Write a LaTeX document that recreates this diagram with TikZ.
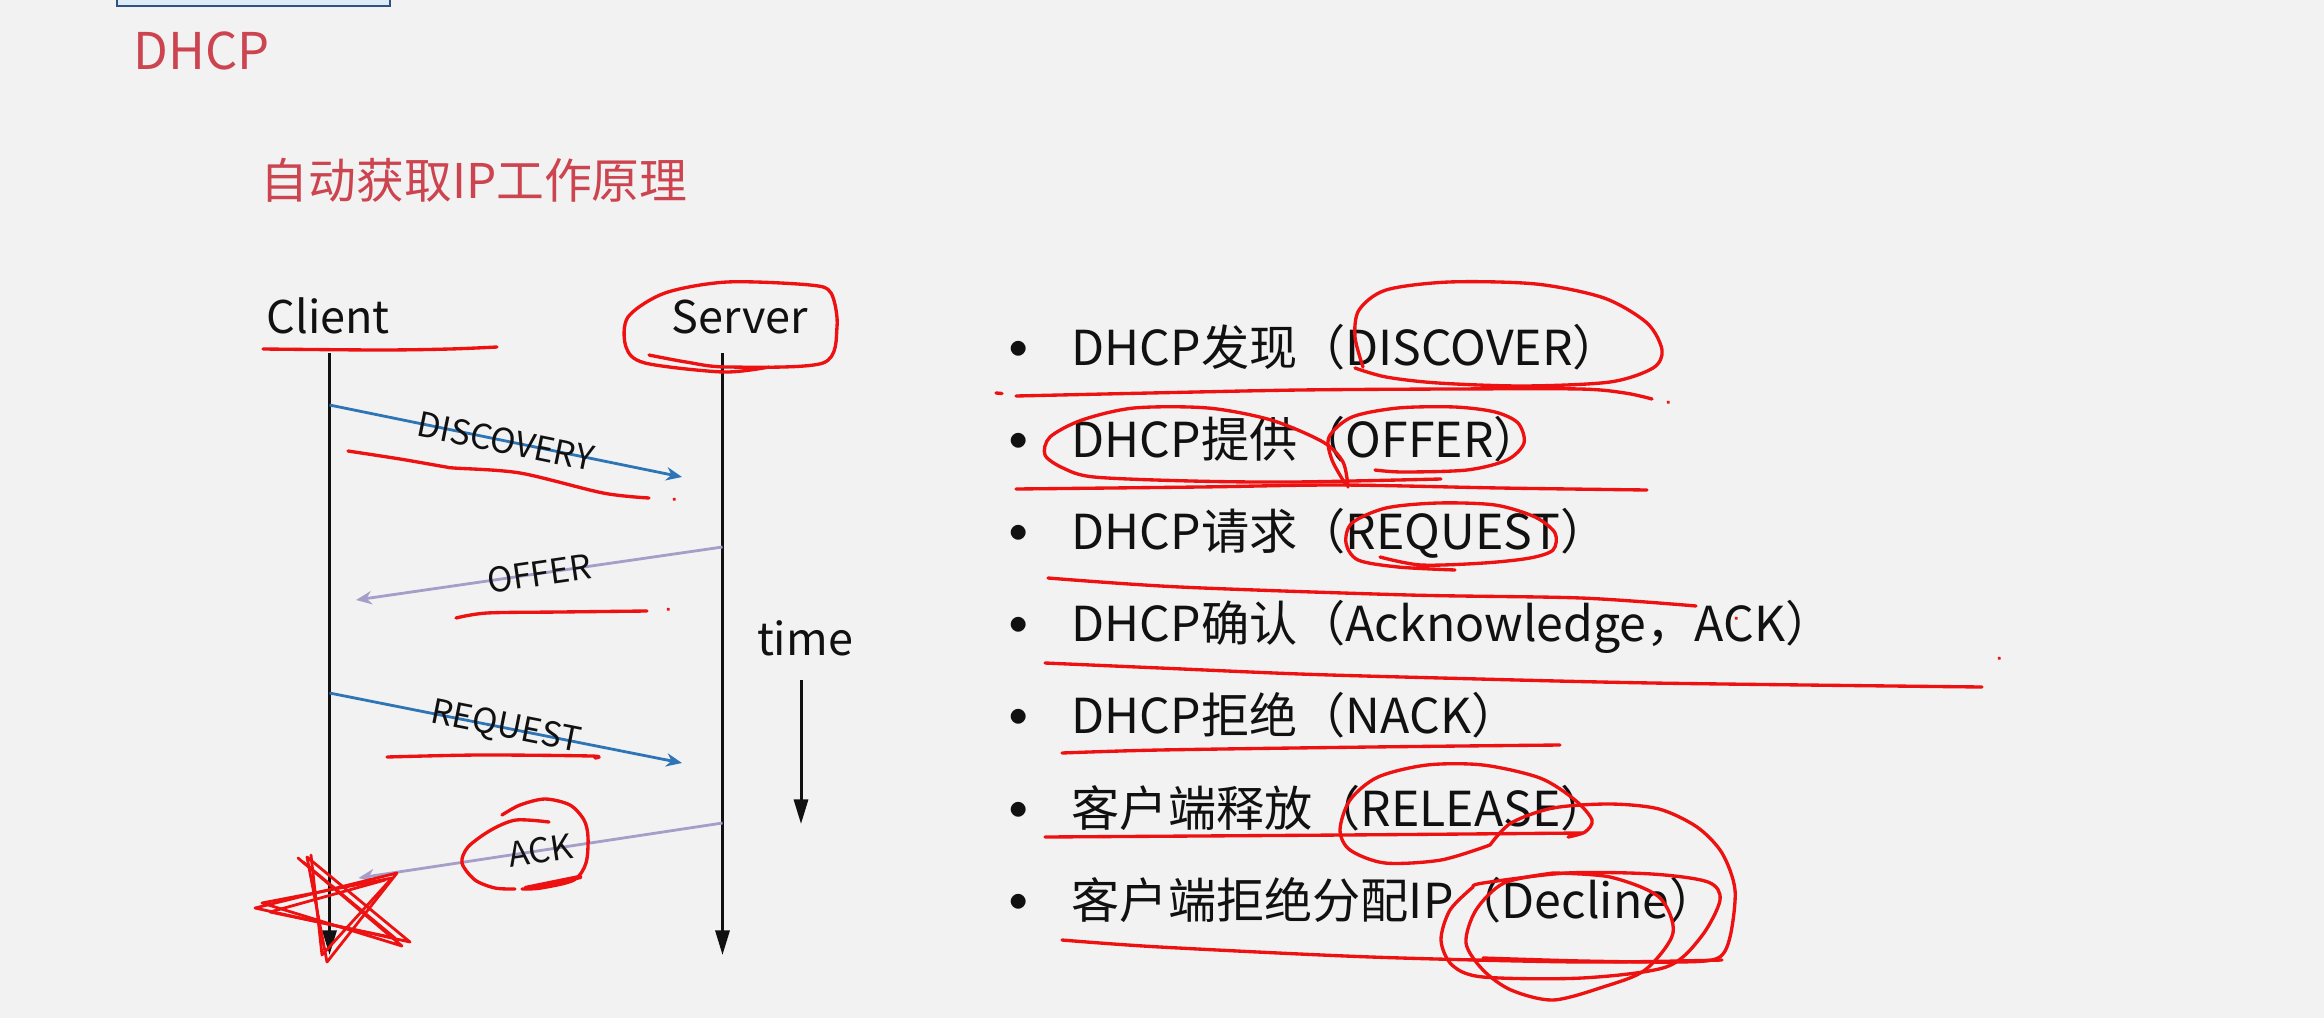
\documentclass[tikz,border=0pt]{standalone}
\usepackage{fontspec}
\setmainfont{Noto Sans CJK SC}
\usetikzlibrary{arrows.meta}
\definecolor{bg}{HTML}{F2F2F2}
\definecolor{ttl}{HTML}{CC4450}
\definecolor{pen}{HTML}{EE1111}
\definecolor{blu}{HTML}{2E75B6}
\definecolor{lav}{HTML}{A79DC9}
\definecolor{boxb}{HTML}{2F5283}
\definecolor{boxf}{HTML}{DDEBF9}
\definecolor{txt}{HTML}{111111}
\tikzset{
  life/.style={line width=0.85pt, draw=txt, -{Triangle[length=7pt,width=4pt]}},
  msgb/.style={line width=0.8pt, draw=blu, -{Stealth[length=4.5pt,width=3.8pt]}},
  msgl/.style={line width=0.8pt, draw=lav, -{Stealth[length=4.5pt,width=3.8pt]}},
  lbl/.style={font=\fontsize{9.7}{11}\selectfont, text=txt, sloped, inner sep=0pt},
  head/.style={font=\fontsize{12.8}{15}\selectfont, text=txt, inner sep=0pt},
  bul/.style={font=\fontsize{13.7}{16}\selectfont, text=txt, inner sep=0pt},
  buldot/.style={font=\fontsize{20}{20}\selectfont, text=txt, inner sep=0pt},
  redpen/.style={draw=pen, line width=0.95pt, line cap=round, line join=round}
}
\begin{document}
\begin{tikzpicture}[x=0.01cm,y=-0.01cm]
\fill[bg] (0,0) rectangle (2324,1018);
\useasboundingbox (0,0) rectangle (2324,1018);
% top box
\filldraw[fill=boxf, draw=boxb, line width=0.6pt] (117,-10) rectangle (390,6);
% titles
\node[anchor=base west, inner sep=0pt, text=ttl, font=\fontsize{14.4}{17}\selectfont] (ttlA) at (133,70) {DHCP};
\node[anchor=base west, inner sep=0pt, text=ttl, font=\fontsize{13.6}{16}\selectfont] (ttlB) at (260,198) {自动获取IP工作原理};
% heads
\node[head, anchor=base west] (client) at (266,333) {Client};
\node[head, anchor=base west] (server) at (671,333) {Server};
\node[head, anchor=base] (time) at (805,655) {time};
% coordinates
\coordinate (cT) at (329.5,353);
\coordinate (cB) at (329.5,955);
\coordinate (sT) at (722.5,353);
\coordinate (sB) at (722.5,955);
\coordinate (tT) at (801,680);
\coordinate (tB) at (801,824);
\coordinate (c1) at (329.5,405);
\coordinate (e1) at (682,477);
\coordinate (s2) at (722.5,547);
\coordinate (e2) at (356,600);
\coordinate (c3) at (329.5,693);
\coordinate (e3) at (682,763);
\coordinate (s4) at (722.5,823);
\coordinate (e4) at (358.5,878);
% lifelines
\draw[life] (cT) -- (cB);
\draw[life] (sT) -- (sB);
\draw[life] (tT) -- (tB);
% messages
\draw[msgb] (c1) -- node[lbl, pos=0.5] (lD) {DISCOVERY} (e1);
\draw[msgl] (s2) -- node[lbl, pos=0.5] (lO) {OFFER} (e2);
\draw[msgb] (c3) -- node[lbl, pos=0.5] (lR) {REQUEST} (e3);
\draw[msgl] (s4) -- node[lbl, pos=0.5] (lA) {ACK} (e4);
% bullets
\foreach \t [count=\i from 0] in {DHCP发现（DISCOVER）,DHCP提供（OFFER）,DHCP请求（REQUEST）,DHCP确认（Acknowledge，ACK）,DHCP拒绝（NACK）,客户端释放（RELEASE）,客户端拒绝分配IP（Decline）}{
  \node[buldot, anchor=center] (dot\i) at (1019,{358+92.2*\i}) {•};
  \node[bul, anchor=base west] (it\i) at (1071,{365+92.2*\i}) {\t};
}
% ===== red pen annotations =====
% client underline
\draw[redpen] plot[smooth] coordinates {(263,349) (380,350) (450,349) (497,347)};
% server loop
\draw[redpen] plot[smooth] coordinates {(649,355) (686,362) (727,367) (823,363) (837,327) (831,293) (810,285) (727,282) (665,293) (628,317) (626,347) (645,363) (723,372) (769,367)};
% discovery underline
\draw[redpen] plot[smooth] coordinates {(348,451) (400,459) (446,467) (454,468) (520,473) (603,493) (649,498)};
\draw[redpen] (674,499) -- (674.5,499.5);
% offer underline
\draw[redpen] plot[smooth] coordinates {(456,618) (487,613) (560,612) (647,611)};
\draw[redpen] (668,609) -- (668.5,609.5);
% request underline
\draw[redpen] plot[smooth] coordinates {(387,757) (479,755) (591,756) (595,758)};
% ack loop
\draw[redpen] plot[smooth] coordinates {(502,815) (520,805) (545,799) (570,805) (584,820) (588,837) (586,863) (574,880) (541,888) (522,889)};
\draw[redpen] plot[smooth] coordinates {(515,889) (495,888) (475,880) (462,863) (468,847) (491,830) (516,820) (549,822)};
\draw[redpen, line width=1.3pt] (526,888) -- (580,877);
% star
\draw[redpen, line width=0.8pt] (307,857) -- (410,942) -- (255,908) -- (397,873) -- (327,962) -- cycle;
\draw[redpen, line width=0.8pt] (298,858) -- (402,946) -- (262,903) -- (392,878) -- (322,955) -- (311,855);
\draw[redpen, line width=0.8pt] (303,862) -- (395,938) -- (270,912) -- (385,880);
% bullet 1
\draw[redpen] plot[smooth] coordinates {(1355,368) (1386,377) (1438,383) (1524,386) (1610,382) (1653,368) (1662,350) (1647,323) (1604,298) (1536,284) (1449,282) (1386,290) (1359,310) (1355,337) (1363,367)};
\draw[redpen] (996,393) -- (1002,393.5);
\draw[redpen] plot[smooth] coordinates {(1016,396) (1150,393) (1300,390) (1450,389) (1580,389) (1625,393) (1652,399)};
\draw[redpen] (1668,402) -- (1668.5,402.5);
% bullet 2
\draw[redpen] plot[smooth] coordinates {(1441,479) (1294,482) (1191,481) (1094,477) (1063,468) (1045,455) (1050,437) (1082,420) (1134,408) (1208,408) (1271,420) (1323,442) (1343,462) (1348,487)};
\draw[redpen] plot[smooth] coordinates {(1375,470) (1403,472) (1467,470) (1507,460) (1524,443) (1518,423) (1495,412) (1455,407) (1398,408) (1352,417) (1329,437) (1332,460) (1346,485)};
\draw[redpen] plot[smooth] coordinates {(1016,489) (1200,487) (1340,485) (1500,488) (1647,490)};
% bullet 3
\draw[redpen] plot[smooth] coordinates {(1455,570) (1398,567) (1358,560) (1346,543) (1352,523) (1386,508) (1438,503) (1495,505) (1535,517) (1555,533) (1553,550) (1530,558) (1484,563) (1421,565) (1380,557)};
\draw[redpen] plot[smooth] coordinates {(1048,578) (1180,587) (1409,595) (1581,598) (1696,606)};
\draw[redpen] (1736,618) -- (1736.5,618.5);
% bullet 4
\draw[redpen] plot[smooth] coordinates {(1045,663) (1160,668) (1300,674) (1441,678) (1652,683) (1982,687)};
\draw[redpen] (1999,658) -- (1999.5,658.5);
% bullet 5
\draw[redpen] plot[smooth] coordinates {(1062,753) (1160,750) (1371,747) (1560,745)};
% bullet 6
\draw[redpen] plot[smooth] coordinates {(1490,845) (1441,860) (1385,863) (1350,850) (1340,830) (1350,800) (1378,777) (1427,765) (1483,765) (1540,778) (1575,800) (1592,820) (1585,832) (1568,837)};
\draw[redpen] plot[smooth] coordinates {(1045,837) (1343,835) (1582,833)};
% bullet 7
\draw[redpen] plot[smooth] coordinates {(1490,845) (1511,823) (1553,808) (1610,804) (1659,809) (1697,827) (1722,853) (1735,890) (1730,937) (1718,958) (1680,962) (1582,961) (1483,958)};
\draw[redpen] plot[smooth] coordinates {(1473,887) (1483,883) (1567,873) (1652,874) (1708,882) (1720,900) (1701,937) (1666,967) (1582,978) (1483,977) (1452,965) (1441,940) (1450,910) (1473,887)};
\draw[redpen] plot[smooth] coordinates {(1553,873) (1610,877) (1659,897) (1673,933) (1645,970) (1603,987) (1553,1000) (1511,990) (1483,970) (1466,943) (1476,910) (1504,883) (1553,873)};
\draw[redpen] plot[smooth] coordinates {(1062,940) (1160,947) (1371,957) (1582,962) (1722,960)};
\end{tikzpicture}
\end{document}
